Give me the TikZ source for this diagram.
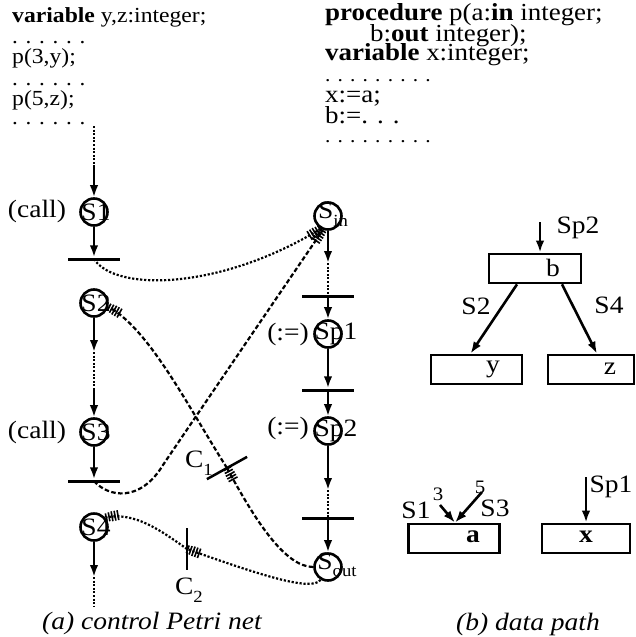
\documentclass[tikz,border=0pt]{standalone}
\usepackage{fontspec}
\setmainfont[FakeStretch=1.1]{Liberation Serif}
\usetikzlibrary{arrows.meta}
\tikzset{
  hatch/.tip={Bar[width=10pt,line width=1.6pt,sep=1.4pt]Bar[width=10pt,line width=1.6pt,sep=1.4pt]Bar[width=10pt,line width=1.6pt,sep=1.4pt]Bar[width=9pt,line width=1.6pt,sep=1.4pt]Bar[width=8pt,line width=1.6pt]}
}
\newcommand{\sbs}[1]{\raisebox{-0.3em}{\fontsize{17}{17}\selectfont #1}}
\begin{document}
\begin{tikzpicture}[x=1pt,y=-1pt,
  code/.style={font=\fontsize{21.5}{24}\selectfont, anchor=base west, inner sep=0, text height=14pt, text depth=3pt},
  rcode/.style={font=\fontsize{24.5}{26}\selectfont, anchor=base west, inner sep=0, text height=15pt, text depth=3pt},
  dotline/.style={font=\fontsize{21}{24}\selectfont, anchor=base west, inner sep=0},
  rdotline/.style={font=\fontsize{19.5}{24}\selectfont, anchor=base west, inner sep=0},
  lbl/.style={font=\fontsize{25}{27}\selectfont, inner sep=0},
  smalllbl/.style={font=\fontsize{19}{20}\selectfont, inner sep=0},
  captxt/.style={font=\fontsize{25}{27}\selectfont\itshape, inner sep=0},
  place/.style={circle, draw, line width=2.6pt, minimum size=27pt, inner sep=0},
  tbar/.style={fill=black, minimum width=52pt, minimum height=3pt, inner sep=0},
  cbar/.style={fill=black, minimum width=46pt, minimum height=2.5pt, inner sep=0},
  arr/.style={line width=2.6pt, -{Latex[length=12pt,width=8.5pt]}},
  dotseg/.style={line width=2.4pt, dash pattern=on 2pt off 1.6pt},
  dotc/.style={line width=2.2pt, dash pattern=on 2.2pt off 1.8pt, -{hatch}},
  dashc/.style={line width=2.2pt, dash pattern=on 4.5pt off 2.4pt, -{hatch}},
  dbox/.style={draw, line width=2.7pt, minimum height=29pt, inner sep=0}
]
\useasboundingbox (0,0) rectangle (636,637);

% ---- left code
\node[code] (l1) at (12,22) {\textbf{variable} y,z:integer;};
\node[dotline] (l2) at (12,43) {. . . . . .};
\node[code] (l3) at (12,63) {p(3,y);};
\node[dotline] (l4) at (12,85) {. . . . . .};
\node[code] (l5) at (12,105) {p(5,z);};
\node[dotline] (l6) at (12,124) {. . . . . .};

% ---- right code
\node[rcode] (r1) at (325,20) {\textbf{procedure} p(a:\textbf{in} integer;};
\node[rcode] (r2) at (370,41) {b:\textbf{out} integer);};
\node[rcode] (r3) at (325,60) {\textbf{variable} x:integer;};
\node[rdotline] (r4) at (325,81) {. . . . . . . . .};
\node[rcode] (r5) at (325,102) {x:=a;};
\node[rcode] (r6) at (325,123) {b:=. . .};
\node[rdotline] (r7) at (325,142) {. . . . . . . . .};

% ---- left column places and transitions
\node[place] (S1) at (94,212) {};
\node[lbl] (S1t) at (96,212) {S1};
\node[tbar] (t1) at (94,259) {};
\node[place] (S2) at (94,303) {};
\node[lbl] (S2t) at (96,303) {S2};
\node[place] (S3) at (94,432) {};
\node[lbl] (S3t) at (96,432) {S3};
\node[tbar] (t2) at (94,481) {};
\node[place] (S4) at (94,527) {};
\node[lbl] (S4t) at (96,527) {S4};

\node[lbl] (call1) at (37,211) {(call)};
\node[lbl] (call2) at (37,432) {(call)};

\coordinate (top) at (94,126);
\coordinate (topm) at (94,165);
\coordinate (m1) at (94,352);
\coordinate (m2) at (94,390);
\coordinate (m3) at (94,577);
\coordinate (bot) at (94,606);

\draw[dotseg] (top) -- (topm);
\draw[arr] (topm) -- (S1);
\draw[arr] (S1) -- (t1.north);
\draw[arr] (S2) -- (m1);
\draw[dotseg] (m1) -- (m2);
\draw[arr] (m2) -- (S3);
\draw[arr] (S3) -- (t2.north);
\draw[arr] (S4) -- (m3);
\draw[dotseg] (m3) -- (bot);

% ---- right column
\node[place] (Sin) at (328,216) {};
\node[lbl] (Sint) at (333,214) {S\sbs{in}};
\node[tbar] (t3) at (328,296) {};
\node[place] (Sp1) at (328,334) {};
\node[lbl] (Sp1t) at (336,334) {Sp1};
\node[tbar] (t4) at (328,390) {};
\node[place] (Sp2) at (328,431) {};
\node[lbl] (Sp2t) at (336,431) {Sp2};
\node[tbar] (t5) at (328,518) {};
\node[place] (Sout) at (328,567) {};
\node[lbl] (Soutt) at (337,565) {S\sbs{out}};

\node[lbl] (as1) at (288,334) {(:=)};
\node[lbl] (as2) at (288,428) {(:=)};

\coordinate (m4) at (328,263);
\coordinate (m5) at (328,490);
\draw[arr] (Sin) -- (m4);
\draw[dotseg] (m4) -- (t3.center);
\draw[arr] (t3.south) -- (Sp1);
\draw[arr] (Sp1) -- (t4.north);
\draw[arr] (t4.south) -- (Sp2);
\draw[arr] (Sp2) -- (m5);
\draw[dotseg] (m5) -- (t5.center);
\draw[arr] (t5.south) -- (Sout);

% ---- condition bars
\node[cbar, rotate=29] (c1) at (227,468) {};
\node[lbl] (c1t) at (199,463) {C\sbs{1}};
\node[fill=black, minimum width=2.2pt, minimum height=42pt, inner sep=0] (c2) at (187,549) {};
\node[lbl] (c2t) at (189,590) {C\sbs{2}};

% ---- inter-process curves
\draw[dotc] (t1.center) .. controls (115,292) and (220,290) .. (Sin.240);
\draw[dashc] (t2.center) .. controls (108,497) and (140,503) .. (163,465)
   .. controls (190,425) and (282,290) .. (Sin.250);
\draw[dashc] (Sout.west) .. controls (285,567) and (255,520) .. (c1.center);
\draw[dashc] (c1.center) .. controls (190,410) and (150,330) .. (S2.-15);
\draw[dotc] (Sout.-120) .. controls (312,592) and (260,575) .. (c2.center);
\draw[dotc] (c2.center) .. controls (160,530) and (135,512) .. (S4.40);

% ---- data path
\node[dbox, minimum width=92pt] (bb) at (535,268.5) {};
\node[lbl] (bbt) at (553,268) {b};
\node[dbox, minimum width=91pt] (by) at (476.5,369.5) {};
\node[lbl] (byt) at (493,369) {y};
\node[dbox, minimum width=86pt] (bz) at (591,369.5) {};
\node[lbl] (bzt) at (610,369) {z};
\node[dbox, minimum width=91pt] (ba) at (454,538.5) {};
\node[lbl] (bat) at (473,537) {\textbf{a}};
\node[dbox, minimum width=88pt] (bx) at (586,538.5) {};
\node[lbl] (bxt) at (586,537) {\textbf{x}};

\coordinate (sp2s) at (540,222);
\draw[arr] (sp2s) -- (sp2s |- bb.north);
\node[lbl] (sp2l) at (578,228) {Sp2};
\draw[arr] ([xshift=-18pt]bb.south) -- ([xshift=-6pt]by.north);
\draw[arr] ([xshift=27pt]bb.south) -- ([xshift=6pt]bz.north);
\node[lbl] (s2l) at (476,306) {S2};
\node[lbl] (s4l) at (609,305) {S4};

\coordinate (s1a) at (440,505);
\coordinate (s3a) at (482,492);
\draw[arr] (s1a) -- ([xshift=1pt]ba.north);
\draw[arr] (s3a) -- ([xshift=1pt]ba.north);
\node[lbl] (s1l) at (416,510) {S1};
\node[smalllbl] (n3) at (438,494) {3};
\node[smalllbl] (n5) at (480,487) {5};
\node[lbl] (s3l) at (495,508) {S3};

\coordinate (sp1x) at (586,477);
\draw[arr] (sp1x) -- (sp1x |- bx.north);
\node[lbl] (sp1l) at (611,487) {Sp1};

% ---- captions
\node[captxt] (capa) at (152,623) {(a) control Petri net};
\node[captxt] (capb) at (528,624) {(b) data path};
\end{tikzpicture}
\end{document}
